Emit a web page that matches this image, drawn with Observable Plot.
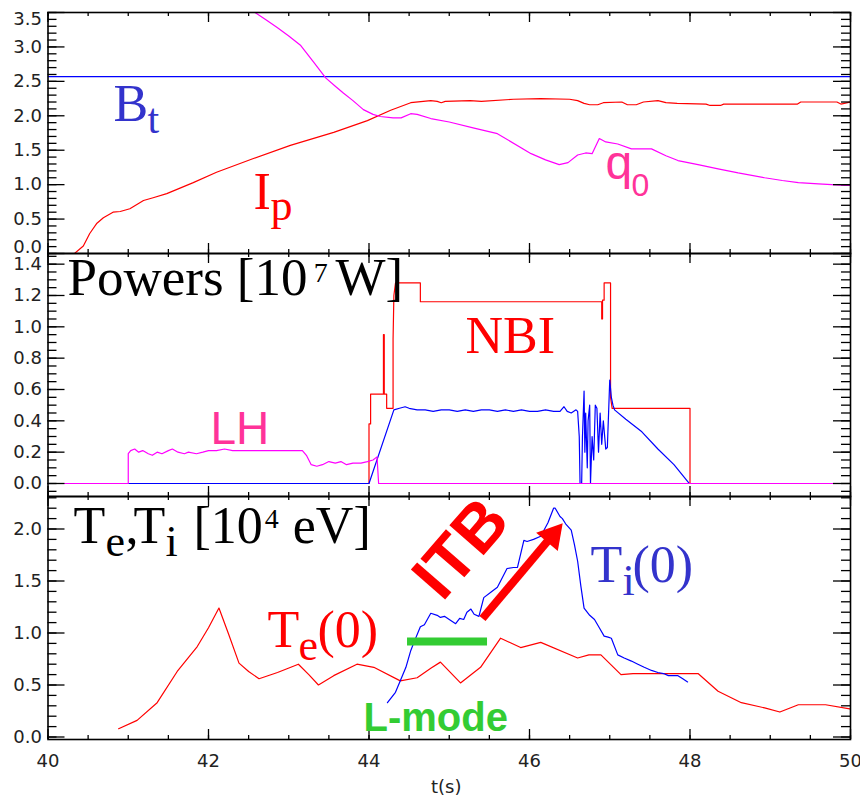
<!DOCTYPE html>
<html><head><meta charset="utf-8">
<script src="https://cdn.jsdelivr.net/npm/d3@7"></script>
<script src="https://cdn.jsdelivr.net/npm/@observablehq/plot@0.6"></script>
<style>
body{margin:0;background:#fff;}
#wrap{position:relative;width:860px;height:798px;background:#fff;overflow:hidden;}
#wrap svg{position:absolute;left:0;overflow:visible;}
</style></head><body><div id="wrap"></div>
<script>
// ---------- data ----------
const xDomain = [40, 50];
const xMajor = [40, 42, 44, 46, 48, 50];

// panel 1
const bt = [[40, 2.57], [50, 2.57]];
const ip = [[40.33,0.0],[40.44,0.11],[40.52,0.29],[40.61,0.44],[40.69,0.52],[40.81,0.6],[40.9,0.61],[41.02,0.65],[41.19,0.77],[41.31,0.81],[41.48,0.87],[41.81,1.03],[42.1,1.18],[42.56,1.38],[43.02,1.57],[43.56,1.76],[43.98,1.93],[44.27,2.08],[44.52,2.19],[44.77,2.22],[44.85,2.21],[44.9,2.19],[44.95,2.21],[45.26,2.22],[45.4,2.21],[45.8,2.24],[46.14,2.25],[46.5,2.24],[46.6,2.22],[46.68,2.18],[46.75,2.16],[46.85,2.16],[46.92,2.19],[47.15,2.2],[47.22,2.16],[47.33,2.16],[47.42,2.2],[47.6,2.22],[47.7,2.19],[47.84,2.18],[48.2,2.17],[48.25,2.15],[48.38,2.15],[48.42,2.17],[49.34,2.17],[49.38,2.2],[49.83,2.2],[49.88,2.17],[50.0,2.2]];
const q0 = [[42.58,3.5],[42.72,3.39],[42.86,3.28],[43.0,3.16],[43.15,3.02],[43.31,2.78],[43.46,2.55],[43.58,2.43],[43.68,2.33],[43.8,2.22],[43.93,2.09],[44.05,2.02],[44.14,1.99],[44.3,1.97],[44.4,1.97],[44.52,2.03],[44.6,2.02],[44.77,1.96],[45.0,1.91],[45.31,1.82],[45.6,1.74],[46.02,1.45],[46.2,1.36],[46.37,1.29],[46.48,1.32],[46.6,1.43],[46.7,1.46],[46.78,1.45],[46.87,1.67],[46.95,1.62],[47.1,1.59],[47.27,1.52],[47.52,1.52],[47.7,1.42],[47.85,1.35],[48.1,1.29],[48.35,1.23],[48.6,1.17],[48.93,1.1],[49.15,1.06],[49.35,1.03],[49.6,1.01],[49.93,0.99],[50.0,0.99]];

// panel 2
const nbi = [[40,0],[44.0,0],[44.0,0.38],[44.02,0.38],[44.02,0.57],[44.18,0.57],[44.18,0.95],[44.19,0.95],[44.19,0.57],[44.22,0.57],[44.22,0.48],[44.3,0.48],[44.3,0.92],[44.31,1.2],[44.33,1.28],[44.64,1.28],[44.64,1.16],[46.9,1.16],[46.9,1.05],[46.91,1.05],[46.91,1.17],[46.93,1.17],[46.93,1.28],[47.01,1.28],[47.01,0.55],[47.03,0.48],[48.0,0.48],[48.0,0],[50,0]];
const pBlue = [[40,0],[44.0,0],[44.31,0.47],[44.38,0.48],[44.45,0.49],[44.5,0.48],[44.6,0.47],[44.7,0.47],[44.8,0.46],[44.9,0.47],[45.0,0.47],[45.1,0.46],[45.2,0.47],[45.3,0.46],[45.4,0.47],[45.5,0.47],[45.6,0.46],[45.7,0.47],[45.8,0.46],[45.9,0.47],[46.0,0.46],[46.1,0.46],[46.2,0.47],[46.3,0.46],[46.38,0.46],[46.43,0.49],[46.47,0.46],[46.52,0.45],[46.58,0.47],[46.6,0.46],[46.62,0.3],[46.63,0.0],[46.65,0.0],[46.66,0.3],[46.68,0.59],[46.69,0.2],[46.7,0.45],[46.72,0.1],[46.73,0.4],[46.75,0.5],[46.76,0.0],[46.78,0.3],[46.8,0.15],[46.82,0.5],[46.84,0.48],[46.86,0.2],[46.88,0.45],[46.9,0.25],[46.92,0.4],[46.95,0.22],[46.97,0.23],[47.0,0.66],[47.02,0.55],[47.04,0.5],[47.06,0.47],[47.2,0.41],[47.4,0.33],[47.6,0.22],[47.8,0.12],[47.99,0],[50,0]];
const lh = [[40,0],[41.0,0],[41.0,0.19],[41.03,0.21],[41.08,0.22],[41.13,0.2],[41.18,0.21],[41.25,0.19],[41.3,0.18],[41.36,0.2],[41.42,0.19],[41.5,0.21],[41.55,0.22],[41.62,0.2],[41.7,0.19],[41.75,0.2],[41.85,0.19],[41.93,0.2],[42.0,0.21],[42.1,0.21],[42.2,0.22],[42.3,0.21],[42.5,0.21],[42.7,0.21],[43.0,0.21],[43.17,0.21],[43.22,0.18],[43.28,0.12],[43.35,0.11],[43.42,0.12],[43.5,0.14],[43.58,0.13],[43.65,0.14],[43.72,0.12],[43.8,0.13],[43.9,0.13],[43.98,0.14],[44.05,0.15],[44.1,0.17],[44.12,0],[50,0]];

// panel 3
const te = [[40.88,0.08],[41.11,0.16],[41.36,0.33],[41.61,0.63],[41.86,0.87],[42.0,1.05],[42.13,1.24],[42.25,0.99],[42.38,0.71],[42.5,0.63],[42.63,0.56],[42.86,0.62],[43.12,0.7],[43.25,0.6],[43.37,0.5],[43.56,0.59],[43.85,0.7],[44.06,0.67],[44.39,0.54],[44.6,0.57],[44.77,0.66],[44.89,0.72],[45.14,0.52],[45.39,0.67],[45.64,0.95],[45.89,0.86],[46.14,0.91],[46.6,0.76],[46.74,0.79],[46.89,0.79],[47.14,0.6],[47.29,0.61],[48.1,0.61],[48.35,0.44],[48.64,0.33],[48.93,0.28],[49.12,0.24],[49.35,0.31],[49.69,0.31],[49.99,0.27]];
const ti = [[44.23,0.33],[44.33,0.43],[44.39,0.54],[44.46,0.67],[44.52,0.83],[44.56,0.91],[44.64,1.06],[44.69,1.08],[44.77,1.19],[44.85,1.17],[44.89,1.15],[44.94,1.16],[45.0,1.13],[45.08,1.09],[45.13,1.14],[45.18,1.13],[45.22,1.2],[45.27,1.23],[45.31,1.18],[45.37,1.16],[45.43,1.34],[45.53,1.4],[45.6,1.44],[45.64,1.5],[45.72,1.62],[45.8,1.63],[45.85,1.63],[45.93,1.89],[45.97,1.88],[46.05,1.9],[46.14,1.93],[46.23,2.06],[46.3,2.2],[46.32,2.2],[46.38,2.12],[46.41,2.1],[46.45,2.05],[46.52,1.99],[46.56,1.85],[46.6,1.69],[46.64,1.45],[46.68,1.24],[46.75,1.17],[46.81,1.13],[46.87,1.05],[46.93,0.97],[46.98,0.96],[47.02,0.95],[47.1,0.79],[47.18,0.76],[47.27,0.73],[47.35,0.7],[47.43,0.67],[47.52,0.64],[47.6,0.62],[47.67,0.61],[47.73,0.59],[47.85,0.59],[47.91,0.56],[47.97,0.53]];

// axis tick labels
const p1Ticks = [0.0, 0.5, 1.0, 1.5, 2.0, 2.5, 3.0, 3.5];
const p2Ticks = [0.0, 0.2, 0.4, 0.6, 0.8, 1.0, 1.2, 1.4];
const p3Ticks = [0.0, 0.5, 1.0, 1.5, 2.0];

// ---------- helpers ----------
const WIDTH = 860, ML = 47.5, MR = 10;
const FW = WIDTH - ML - MR;
const serif = "Liberation Serif, Times New Roman, serif";
const sans = "Liberation Sans, Arial, sans-serif";
const tickFont = "DejaVu Sans, sans-serif";
const RED = "#ff0000", BLUE = "#0000ff", MAG = "#ff00ff";

function frameMarks(yMajor, yMinor, FH) {
  const xMinor = d3.range(40, 50.001, 0.5);
  const s = {stroke: "#000", strokeWidth: 1.3};
  return [
    Plot.tickY(yMajor, {y: d => d, insetRight: FW - 17, ...s}),
    Plot.tickY(yMajor, {y: d => d, insetLeft: FW - 17, ...s}),
    Plot.tickY(yMinor, {y: d => d, insetRight: FW - 9, ...s}),
    Plot.tickY(yMinor, {y: d => d, insetLeft: FW - 9, ...s}),
    Plot.tickX(xMajor, {x: d => d, insetBottom: FH - 10, ...s}),
    Plot.tickX(xMajor, {x: d => d, insetTop: FH - 10, ...s}),
    Plot.tickX(xMinor, {x: d => d, insetBottom: FH - 4, ...s}),
    Plot.tickX(xMinor, {x: d => d, insetTop: FH - 4, ...s}),
    Plot.frame({stroke: "#000", strokeWidth: 1.6})
  ];
}
function yLabels(ticks, dy = 0) {
  return Plot.axisY({ticks, tickSize: 0, tickPadding: 6, tickFormat: ".1f", fontSize: 18,
    fontFamily: tickFont, fill: "#222", dy, label: null});
}
function note(text, t, v, o = {}) {
  return Plot.text([{t, v}], {x: "t", y: "v", text: () => text, textAnchor: "start",
    lineAnchor: "bottom", fontFamily: serif, fontSize: 52, ...o});
}
function line(data, stroke) {
  return Plot.line(data, {x: d => d[0], y: d => d[1], stroke, strokeWidth: 1.2, clip: true});
}
function mount(svg, top) { svg.style.top = top + "px"; document.getElementById("wrap").appendChild(svg); }
const common = {width: WIDTH, marginLeft: ML, marginRight: MR,
  style: {background: "transparent", overflow: "visible"}};

// ---------- panel 1 ----------
const p1 = Plot.plot({
  ...common, height: 256, marginTop: 12, marginBottom: 3,
  x: {domain: xDomain, axis: null}, y: {domain: [0, 3.5], axis: null},
  marks: [
    line(bt, BLUE), line(ip, RED), line(q0, MAG),
    ...frameMarks(p1Ticks, d3.range(0, 3.501, 0.1), 241),
    yLabels(p1Ticks.slice(1, -1)), yLabels([3.5], 7), yLabels([0], -6),
    note("B", 40.816, 1.931, {fill: "#3333cc"}),
    note("t", 41.24, 1.743, {fill: "#3333cc", fontSize: 42}),
    note("I", 42.561, 0.653, {fill: RED}),
    note("p", 42.773, 0.48, {fill: RED, fontSize: 44}),
    note("q", 46.947, 1.075, {fill: "#ff3399", fontFamily: sans, fontSize: 48}),
    note("0", 47.27, 0.83, {fill: "#ff3399", fontFamily: sans, fontSize: 32})
  ]
});
mount(p1, 0);

// ---------- panel 2 ----------
const p2 = Plot.plot({
  ...common, height: 249, marginTop: 3, marginBottom: 3,
  x: {domain: xDomain, axis: null}, y: {domain: [-0.083, 1.468], axis: null},
  marks: [
    line(nbi, RED), line(pBlue, BLUE), line(lh, MAG),
    ...frameMarks(p2Ticks, d3.range(-0.05, 1.4501, 0.05), 243),
    yLabels(p2Ticks),
    note("Powers [10", 40.243, 1.2, {fontSize: 53}),
    note("7", 43.31, 1.283, {fontSize: 28}),
    note("W]", 43.583, 1.2, {fontSize: 53}),
    note("NBI", 45.203, 0.83, {fill: RED}),
    note("LH", 42.025, 0.255, {fill: "#ff3399", fontFamily: sans, fontSize: 46})
  ]
});
mount(p2, 250);

// ---------- panel 3 ----------
const p3 = Plot.plot({
  ...common, height: 305, marginTop: 3, marginBottom: 59,
  x: {domain: xDomain, axis: null}, y: {domain: [-0.024, 2.3125], axis: null},
  marks: [
    line(te, RED), line(ti, BLUE),
    ...frameMarks(p3Ticks, d3.range(0, 2.301, 0.1), 243),
    yLabels(p3Ticks),
    Plot.axisX({ticks: xMajor, tickSize: 0, tickPadding: 15, fontSize: 18, fontFamily: tickFont, fill: "#222", label: null}),
    Plot.text(["t(s)"], {frameAnchor: "bottom", dy: 53, lineAnchor: "bottom", fontSize: 18, fontFamily: tickFont, fill: "#222", dx: -3}),
    // annotations
    Plot.ruleY([0.918], {x1: 44.48, x2: 45.477, stroke: "#33cc33", strokeWidth: 8}),
    Plot.link([{a: 45.414, b: 1.139, c: 46.283, d: 1.936}], {x1: "a", y1: "b", x2: "c", y2: "d", stroke: RED, strokeWidth: 8}),
    Plot.dot([{t: 46.283, v: 1.936}], {x: "t", y: "v", symbol: "triangle", r: 10.5, rotate: 40, fill: RED, stroke: "none"}),
    Plot.text([{t: 45.149, v: 1.81}], {x: "t", y: "v", text: () => "ITB", rotate: -49, textAnchor: "middle", lineAnchor: "middle",
      fontFamily: sans, fontWeight: "bold", fontSize: 66, fill: RED}),
    note("L-mode", 43.931, 0.0625, {fill: "#33cc33", fontFamily: sans, fontWeight: "bold", fontSize: 40}),
    note("T", 40.318, 1.861, {}),
    note("e", 40.717, 1.745, {fontSize: 44}),
    note(",", 40.966, 1.861, {}),
    note("T", 41.065, 1.861, {}),
    note("i", 41.464, 1.745, {fontSize: 44}),
    note("[10", 41.813, 1.861, {}),
    note("4", 42.70, 2.014, {fontSize: 28}),
    note("eV]", 43.05, 1.861, {}),
    note("T", 42.735, 0.861, {fill: RED}),
    note("e", 43.121, 0.736, {fill: RED, fontSize: 44}),
    note("(0)", 43.358, 0.861, {fill: RED}),
    note("T", 46.76, 1.486, {fill: "#3333cc"}),
    note("i", 47.159, 1.361, {fill: "#3333cc", fontSize: 44}),
    note("(0)", 47.283, 1.486, {fill: "#3333cc"})
  ]
});
mount(p3, 493);
</script></body></html>
